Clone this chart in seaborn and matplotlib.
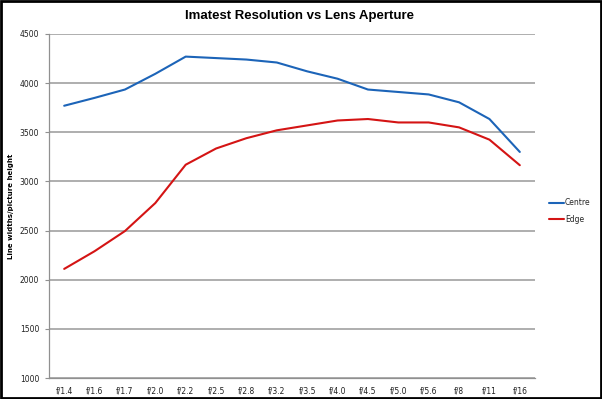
import matplotlib
matplotlib.use("Agg")
import matplotlib.pyplot as plt
import seaborn as sns
import pandas as pd
import numpy as np
from matplotlib.patches import Rectangle
from matplotlib.lines import Line2D

apertures = ["f/1.4", "f/1.6", "f/1.7", "f/2.0", "f/2.2", "f/2.5", "f/2.8", "f/3.2",
             "f/3.5", "f/4.0", "f/4.5", "f/5.0", "f/5.6", "f/8", "f/11", "f/16"]
centre = [3770, 3850, 3935, 4095, 4270, 4255, 4240, 4210, 4120, 4045, 3935, 3910, 3885, 3805, 3635, 3300]
edge = [2110, 2290, 2495, 2780, 3170, 3335, 3440, 3520, 3570, 3620, 3635, 3600, 3600, 3550, 3425, 3165]
series_names = ["Centre", "Edge"]
y_ticks = [1000, 1500, 2000, 2500, 3000, 3500, 4000, 4500]

df = pd.DataFrame({
    "aperture": apertures * 2,
    "idx": list(range(len(apertures))) * 2,
    "value": centre + edge,
    "series": [series_names[0]] * len(apertures) + [series_names[1]] * len(apertures),
})

sns.set_theme(style="white")
plt.rcParams['font.family'] = ['DejaVu Sans']

fig = plt.figure(figsize=(6.02, 3.99), dpi=100)
ax = fig.add_axes([49/602, 1 - 378/399, (535-49)/602, (378-34)/399])

palette = {"Centre": "#1c64b8", "Edge": "#d41414"}
sns.lineplot(data=df, x="idx", y="value", hue="series", palette=palette,
             linewidth=1.5, ax=ax, legend=False)

ax.set_xlim(-0.5, len(apertures) - 0.5)
ax.set_ylim(1000, 4500)
ax.set_yticks(y_ticks)
ax.set_yticklabels([str(v) for v in y_ticks], fontsize=5.5, color="#202020")
ax.set_xticks(range(len(apertures)))
ax.set_xticklabels(apertures, fontsize=5.5, color="#202020")
ax.set_xticks(np.arange(-0.5, len(apertures), 1.0), minor=True)
ax.tick_params(axis="x", which="major", length=0, pad=6)
ax.tick_params(axis="x", which="minor", length=3, color="#909090", width=0.8, direction="out")
ax.tick_params(axis="y", length=3, color="#909090", width=0.8, direction="out", pad=4, left=True)
ax.grid(axis="y", color="#a8a8a8", linewidth=1.3)
ax.set_axisbelow(True)
for s in ["top", "right"]:
    ax.spines[s].set_visible(False)
for s in ["left", "bottom"]:
    ax.spines[s].set_color("#909090")
    ax.spines[s].set_linewidth(0.9)
ax.set_xlabel("")
ax.set_ylabel("Line widths/picture height", fontsize=5, fontweight="bold", color="black")
ax.yaxis.set_label_coords((14 - 49) / (535 - 49), 0.5)

fig.suptitle("Imatest Resolution vs Lens Aperture", fontsize=9.5, fontweight="bold",
             x=0.498, y=0.975, color="black", family=["Liberation Sans", "DejaVu Sans"])

handles = [Line2D([], [], color=palette[n], linewidth=1.5) for n in series_names]
leg = fig.legend(handles, series_names, loc="center left", bbox_to_anchor=(546/602, 1 - 211/399),
                 frameon=False, fontsize=5.5, handlelength=2.0, handletextpad=0.1,
                 labelspacing=1.0, borderaxespad=0)

fig.patches.append(Rectangle((0.002, 0.003), 0.996, 0.994, transform=fig.transFigure,
                             fill=False, edgecolor="black", linewidth=2))
fig.savefig("out.png", dpi=100)
